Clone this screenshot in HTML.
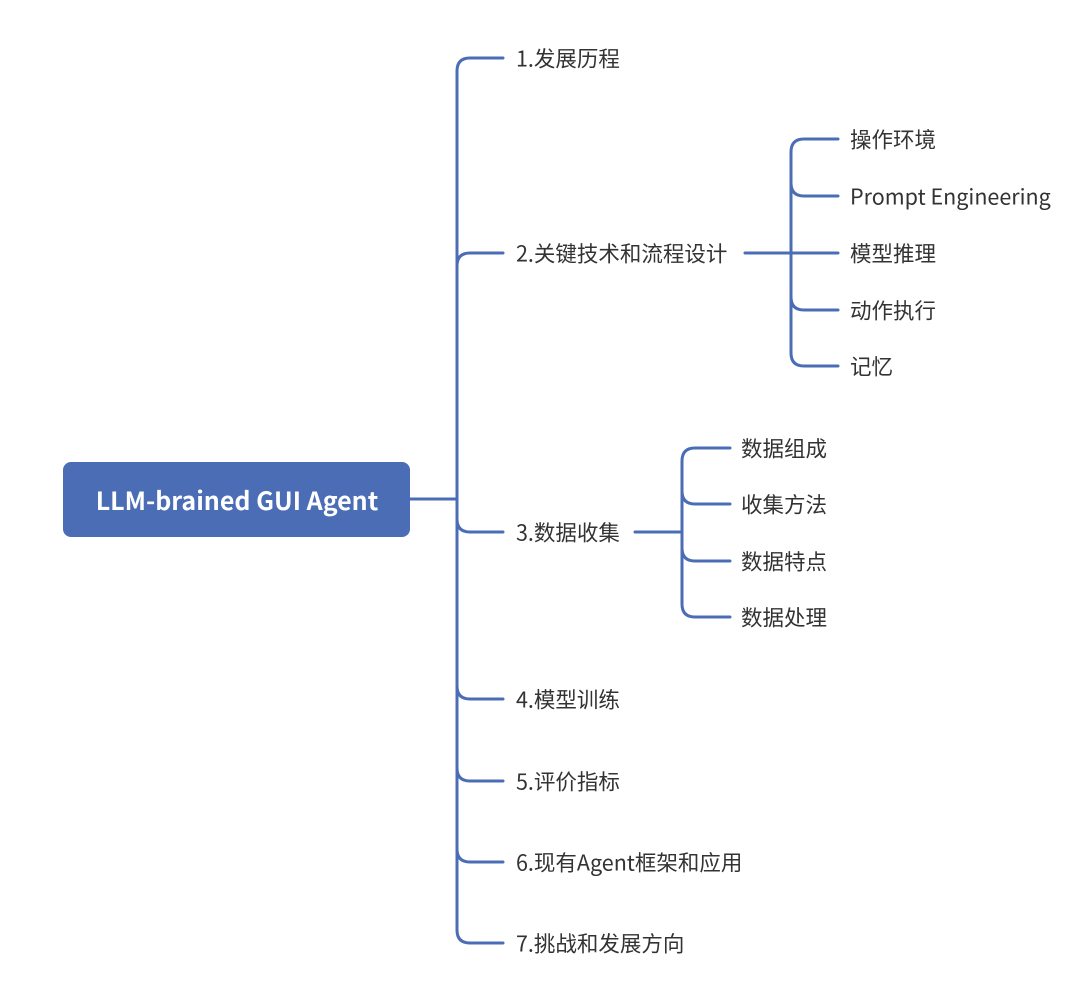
<!DOCTYPE html>
<html><head><meta charset="utf-8"><style>
body{margin:0;background:#fff;width:1080px;height:1003px;overflow:hidden}
svg text{font-family:"Noto Sans CJK SC","Liberation Sans",sans-serif;font-size:21.5px;fill:#333;dominant-baseline:central}
</style></head><body>
<svg width="1080" height="1003" xmlns="http://www.w3.org/2000/svg">
<g fill="none" stroke="#4a6db5" stroke-width="3" stroke-linecap="round">
<path d="M410 499 H457"/>
<path d="M503 58 H470 Q457 58 457 71 V930 Q457 943 470 943 H503"/>
<path d="M457 266 Q457 253 470 253 H503"/>
<path d="M457 519 Q457 532 470 532 H503"/>
<path d="M457 686 Q457 699 470 699 H503"/>
<path d="M457 768 Q457 781 470 781 H503"/>
<path d="M457 849 Q457 862 470 862 H503"/>
<path d="M745 253 H838"/>
<path d="M838 139 H804 Q791 139 791 152 V353 Q791 366 804 366 H838"/>
<path d="M791 183 Q791 196 804 196 H838"/>
<path d="M791 297 Q791 310 804 310 H838"/>
<path d="M635 532 H682"/>
<path d="M730 448 H695 Q682 448 682 461 V604 Q682 617 695 617 H730"/>
<path d="M682 491 Q682 504 695 504 H730"/>
<path d="M682 548 Q682 561 695 561 H730"/>
</g>
<rect x="63" y="462" width="347" height="75" rx="8" fill="#4a6db5"/>
<text x="237" y="500" text-anchor="middle" style="fill:#fff;font-weight:bold;font-size:25px">LLM-brained GUI Agent</text>
<text x="516" y="58">1.发展历程</text>
<text x="516" y="253">2.关键技术和流程设计</text>
<text x="516" y="532">3.数据收集</text>
<text x="516" y="699">4.模型训练</text>
<text x="516" y="781">5.评价指标</text>
<text x="516" y="862">6.现有Agent框架和应用</text>
<text x="516" y="943">7.挑战和发展方向</text>
<text x="850" y="139">操作环境</text>
<text x="850" y="196">Prompt Engineering</text>
<text x="850" y="253">模型推理</text>
<text x="850" y="310">动作执行</text>
<text x="850" y="366">记忆</text>
<text x="741" y="448">数据组成</text>
<text x="741" y="504">收集方法</text>
<text x="741" y="561">数据特点</text>
<text x="741" y="617">数据处理</text>
</svg>
</body></html>
